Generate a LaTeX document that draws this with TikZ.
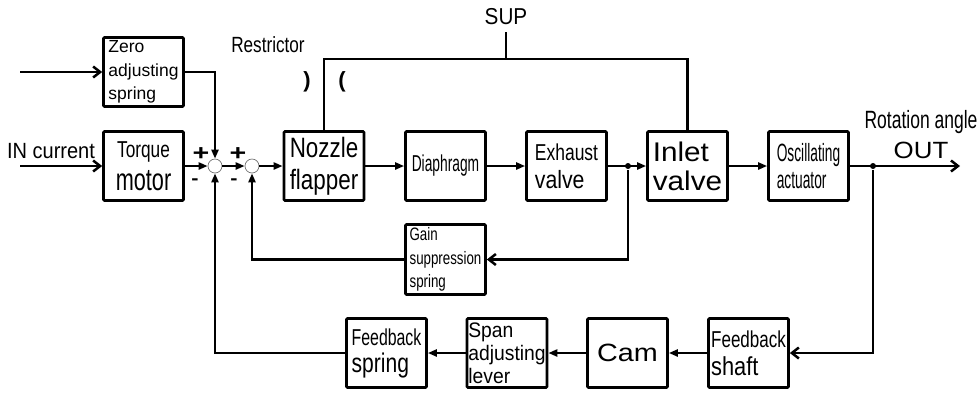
\documentclass[tikz,border=0pt]{standalone}
\usepackage{fontspec}
\setmainfont{Liberation Sans}
\usetikzlibrary{arrows.meta}
% stretch, size, text
\newcommand\boxtxt[3]{{\fontsize{#2}{#2}\selectfont\addfontfeature{FakeStretch=#1}#3}}

\begin{document}
\begin{tikzpicture}[x=1pt, y=-1pt, line width=2.5pt,
    blk/.style={draw, line width=2.7pt, rounded corners=1pt, minimum width=80pt,
      minimum height=69pt, inner sep=0pt, align=left},
    sum/.style={circle, draw=black!55, line width=0.7pt, minimum size=14pt, inner sep=0pt},
    tap/.style={circle, fill, inner sep=0pt, minimum size=6pt},
    arr/.style={-{Triangle[length=9pt,width=7pt]}},
    barb/.style={-{Straight Barb[length=7pt,width=11pt]}},
    lab/.style={inner sep=0pt}]
  \useasboundingbox (0,0) rectangle (979,392);
  % blocks
  \node[blk, font=\fontsize{17.5}{23.5}\selectfont] (zero) at (143.5,72)
    {\boxtxt{1}{17.5}{Zero}\\\boxtxt{1}{17.5}{adjusting}\\\boxtxt{1}{17.5}{spring}};
  \node[blk, align=center, font=\fontsize{23}{33}\selectfont] (torque) at (143.5,166)
    {\boxtxt{0.75}{23}{Torque}\\\boxtxt{0.7}{31}{motor}};
  \node[blk, font=\fontsize{28}{32}\selectfont] (nozzle) at (324,166)
    {\boxtxt{0.8}{28}{Nozzle}\\\boxtxt{0.8}{28}{flapper}};
  \node[blk] (diaph) at (445.5,166) {\boxtxt{0.6}{23}{Diaphragm}};
  \node[blk, font=\fontsize{23}{28}\selectfont] (exhaust) at (566.5,166)
    {\boxtxt{0.76}{23}{Exhaust}\\\boxtxt{0.85}{25}{valve}};
  \node[blk, font=\fontsize{27}{29}\selectfont] (inlet) at (687.5,166)
    {\boxtxt{1.1}{27}{Inlet}\\\boxtxt{1.1}{27}{valve}};
  \node[blk, font=\fontsize{25}{27}\selectfont] (osc) at (808.5,166)
    {\boxtxt{0.55}{25}{Oscillating}\\\boxtxt{0.55}{25}{actuator}};
  \node[blk, minimum height=70pt, font=\fontsize{18}{23.5}\selectfont] (gain) at (445.5,259.5)
    {\boxtxt{0.74}{18}{Gain}\\\boxtxt{0.74}{18}{suppression}\\\boxtxt{0.74}{18}{spring}};
  \node[blk, font=\fontsize{23}{27}\selectfont] (fbspring) at (386.5,353)
    {\boxtxt{0.69}{23}{Feedback}\\\boxtxt{0.78}{27}{spring}};
  \node[blk, font=\fontsize{21}{23}\selectfont] (span) at (507,353)
    {\boxtxt{0.92}{21}{Span}\\\boxtxt{0.92}{21}{adjusting}\\\boxtxt{0.92}{21}{lever}};
  \node[blk] (cam) at (627.5,353) {\boxtxt{1.15}{25}{Cam}};
  \node[blk, font=\fontsize{23}{28}\selectfont] (shaft) at (748.5,353)
    {\boxtxt{0.74}{23}{Feedback}\\\boxtxt{0.84}{26}{shaft}};
  % summing points
  \node[sum] (c1) at (215,166) {};
  \node[sum] (c2) at (252,166) {};
  \node[lab] (p1) at (201,154) {\boxtxt{1.3}{22}{\textbf{+}}};
  \node[lab] (m1) at (195,182) {\boxtxt{1.2}{18}{\textbf{-}}};
  \node[lab] (p2) at (238,154) {\boxtxt{1.3}{22}{\textbf{+}}};
  \node[lab] (m2) at (234,182) {\boxtxt{1.2}{18}{\textbf{-}}};
  % labels
  \node[lab] (intext) at (51,151) {\boxtxt{0.91}{22}{IN current}};
  \node[lab] (restr) at (268,45) {\boxtxt{0.78}{22}{Restrictor}};
  \node[lab] (rl) at (307,82) {\boxtxt{1}{22}{\textbf{)}}};
  \node[lab] (rr) at (342,82) {\boxtxt{1}{22}{\textbf{(}}};
  \node[lab] (suptext) at (506,17) {\boxtxt{0.9}{23}{SUP}};
  \node[lab] (rot) at (921,122) {\boxtxt{0.7}{25}{Rotation angle}};
  \node[lab] (outtext) at (921,150) {\boxtxt{1.1}{23.5}{OUT}};
  % branch points and free ends
  \node[tap] (tapA) at (628,166) {};
  \node[tap] (tapB) at (873,166) {};
  \coordinate (zin) at (20,72);
  \coordinate (iin) at (20,166);
  \coordinate (out) at (960,166);
  \coordinate (sup) at (506,32);
  \coordinate (bus) at (506,59);
  % inputs
  \draw[barb] (zin) -- (zero);
  \draw[barb] (iin) -- (torque);
  \draw[arr] (zero.east) -| (c1.north);
  \draw[arr] (torque) -- (c1);
  \draw[arr] (c1) -- (c2);
  \draw[arr] (c2) -- (nozzle);
  % forward path
  \foreach \a/\b in {nozzle/diaph, diaph/exhaust, exhaust/inlet, inlet/osc}
    \draw[arr] (\a) -- (\b);
  \draw[barb] (osc) -- (out);
  % supply
  \draw (nozzle.north) |- (bus) -| (inlet.north);
  \draw (sup) -- (bus);
  % inner loop
  \draw[barb] (tapA) |- (gain.east);
  \draw[arr] (gain.west) -| (c2.south);
  % outer loop
  \draw[barb] (tapB) |- (shaft.east);
  \foreach \a/\b in {shaft/cam, cam/span, span/fbspring}
    \draw[arr] (\a) -- (\b);
  \draw[arr] (fbspring.west) -| (c1.south);
\end{tikzpicture}
\end{document}
